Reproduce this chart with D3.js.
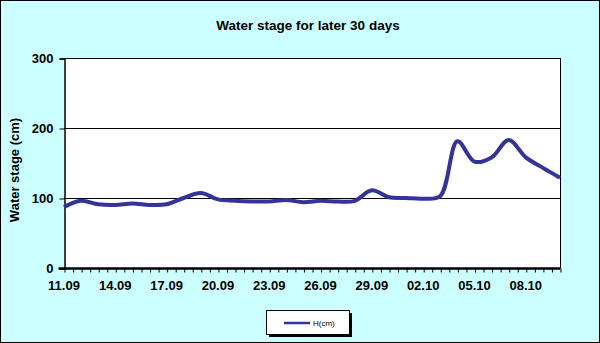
<!DOCTYPE html>
<html><head><meta charset="utf-8">
<script src="https://cdn.jsdelivr.net/npm/d3@7"></script>
<style>html,body{margin:0;padding:0;background:#fff;}svg{display:block;}</style>
</head><body>
<script>
const title = "Water stage for later 30 days";
const yTitle = "Water stage (cm)";
const seriesName = "H(cm)";
const dates = ["11.09","12.09","13.09","14.09","15.09","16.09","17.09","18.09","19.09","20.09",
  "21.09","22.09","23.09","24.09","25.09","26.09","27.09","28.09","29.09","30.09",
  "01.10","02.10","03.10","04.10","05.10","06.10","07.10","08.10","09.10","10.10"];
const values = [87,96,91,90,92,90,91,100,107,98,
  96,95,95,97,94,96,95,96,111,101,
  100,99,103,181,152,158,183,158,143,129];
const yTicks = [0,100,200,300];

const W=600,H=343;
const svg=d3.select("body").append("svg").attr("width",W).attr("height",H);
svg.append("rect").attr("x",0.5).attr("y",0.5).attr("width",W-1).attr("height",H-1)
  .attr("fill","#CCFFFF").attr("stroke","#000").attr("stroke-width",1);

const L=64,R=560,T=58,B=268;
const x=d3.scaleLinear().domain([0,dates.length-1]).range([L,R]);
const y=d3.scaleLinear().domain([0,300]).range([B,T]);

svg.append("rect").attr("x",L).attr("y",T).attr("width",R-L).attr("height",B-T).attr("fill","#fff");

// gridlines
svg.append("g").selectAll("line").data(yTicks.filter(d=>d>0)).join("line")
  .attr("x1",L).attr("x2",R).attr("y1",d=>Math.round(y(d))+0.5).attr("y2",d=>Math.round(y(d))+0.5)
  .attr("stroke","#000").attr("stroke-width",1);
// right border
svg.append("line").attr("x1",R+0.5).attr("x2",R+0.5).attr("y1",T).attr("y2",B).attr("stroke","#000");

// y axis
const yAxis=d3.axisLeft(y).tickValues(yTicks).tickSize(5).tickPadding(6);
const gy=svg.append("g").attr("transform",`translate(${L+0.5},0.5)`).call(yAxis);
gy.select(".domain").attr("stroke","#000").attr("stroke-width",1.5);
gy.selectAll("text").attr("font-family","Liberation Sans, Arial, sans-serif").attr("font-weight","bold").attr("font-size","13px").attr("fill","#000");

// x axis ticks every half day
const halfTicks=d3.range(0,dates.length-1+0.001,0.5);
const xAxis=d3.axisBottom(x).tickValues(halfTicks).tickSize(4).tickFormat(()=>"");
const gx=svg.append("g").attr("transform",`translate(0.5,${B+0.5})`).call(xAxis);
gx.select(".domain").attr("stroke","#000").attr("stroke-width",2.5).attr("d",`M${L-6},0H${R}`);
const labelIdx=d3.range(0,dates.length,3);
svg.append("g").selectAll("text").data(labelIdx).join("text")
  .attr("x",d=>x(d)).attr("y",290).attr("text-anchor","middle")
  .attr("font-family","Liberation Sans, Arial, sans-serif").attr("font-weight","bold").attr("font-size","13px")
  .text(d=>dates[d]);

// line
const line=d3.line().x((d,i)=>x(i)).y(d=>y(d)).curve(d3.curveCatmullRom.alpha(0.5));
svg.append("path").datum(values).attr("d",line).attr("fill","none")
  .attr("stroke","#333399").attr("stroke-width",4).attr("stroke-linejoin","round");

// title
svg.append("text").attr("x",308).attr("y",30).attr("text-anchor","middle")
  .attr("font-family","Liberation Sans, Arial, sans-serif").attr("font-weight","bold").attr("font-size","13.5px")
  .text(title);
svg.append("text").attr("transform","translate(19,170) rotate(-90)").attr("text-anchor","middle")
  .attr("font-family","Liberation Sans, Arial, sans-serif").attr("font-weight","bold").attr("font-size","13px")
  .text(yTitle);

// legend
svg.append("rect").attr("x",269).attr("y",313).attr("width",83).attr("height",24).attr("fill","#000");
svg.append("rect").attr("x",266.5).attr("y",310.5).attr("width",83).attr("height",24).attr("fill","#fff").attr("stroke","#000");
svg.append("line").attr("x1",284).attr("x2",310).attr("y1",323).attr("y2",323).attr("stroke","#333399").attr("stroke-width",2.5);
svg.append("text").attr("x",313).attr("y",326).attr("font-family","Liberation Sans, Arial, sans-serif").attr("font-size","8px").text(seriesName);
</script>
</body></html>
